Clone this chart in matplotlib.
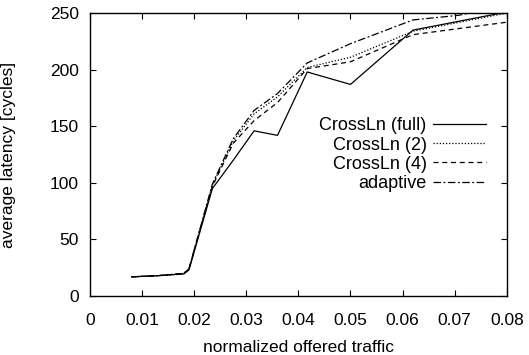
import numpy as np
from matplotlib import pyplot as plt

plt.rcParams['font.family'] = ['Liberation Sans', 'DejaVu Sans']

# offered traffic points (shared by the CrossLn runs)
traffic = [0.008, 0.013, 0.018, 0.019, 0.0235, 0.0275, 0.0315, 0.036, 0.0417, 0.05, 0.062, 0.08]
full = [17, 18, 19.5, 23, 95, 120, 146, 142, 198, 187, 235, 251]
crossln2 = [17, 18, 20, 24, 98, 137, 161, 176, 202, 211, 234, 250]
crossln4 = [17, 18, 20, 24, 97, 135, 155, 171, 201, 207, 231, 242]

traffic_ad = [0.008, 0.013, 0.018, 0.019, 0.0235, 0.0275, 0.0315, 0.036, 0.0417, 0.05, 0.062, 0.0706, 0.08]
adaptive = [17, 18, 20, 24, 99, 139, 164, 179, 206, 223, 244, 248, 256]

xticks = [0, 0.01, 0.02, 0.03, 0.04, 0.05, 0.06, 0.07, 0.08]
xticklabels = ['0', '0.01', '0.02', '0.03', '0.04', '0.05', '0.06', '0.07', '0.08']
yticks = [0, 50, 100, 150, 200, 250]

fig = plt.figure(figsize=(5.29, 3.55), dpi=100)
ax = fig.add_axes([0.170, 0.166, 0.788, 0.797])

lw = 0.9
ax.plot(traffic, full, color='black', lw=lw, ls='-', label='CrossLn (full)')
ax.plot(traffic, crossln2, color='black', lw=lw, ls=(0, (1, 1.5)), label='CrossLn (2)')
ax.plot(traffic, crossln4, color='black', lw=lw, ls=(0, (4, 3)), label='CrossLn (4)')
ax.plot(traffic_ad, adaptive, color='black', lw=lw, ls=(0, (6, 2, 1.5, 2)), label='adaptive')

ax.set_xlim(0, 0.08)
ax.set_ylim(0, 250)
ax.set_xticks(xticks)
ax.set_xticklabels(xticklabels)
ax.set_yticks(yticks)
ax.tick_params(direction='in', length=4, width=0.8, top=True, right=True, labelsize=12.5)
ax.tick_params(axis='x', pad=12)
ax.tick_params(axis='y', pad=8)
for s in ax.spines.values():
    s.set_linewidth(1.0)

ax.set_xlabel('normalized offered traffic', fontsize=12.5)
ax.set_ylabel('average latency [cycles]', fontsize=12.5)
ax.xaxis.set_label_coords(0.5, -0.155)
ax.yaxis.set_label_coords(-0.177, 0.5)

ax.legend(loc='center right', bbox_to_anchor=(0.95, 0.5), frameon=False, markerfirst=False,
          fontsize=13, handlelength=2.95, handletextpad=0.33, labelspacing=0.12,
          borderpad=0, borderaxespad=0)

plt.savefig('out.png', dpi=100)
